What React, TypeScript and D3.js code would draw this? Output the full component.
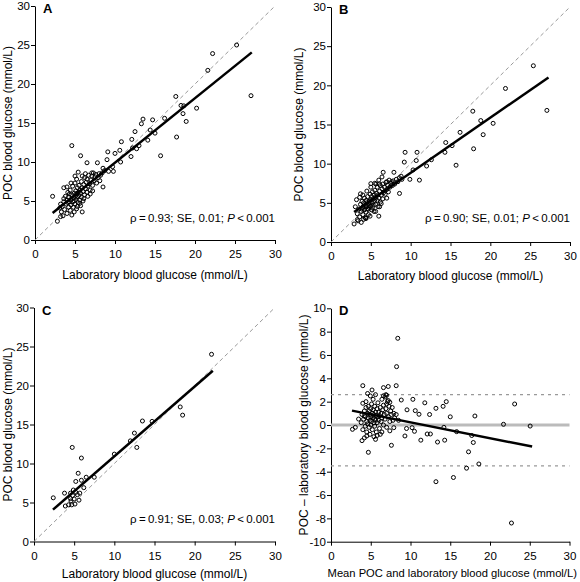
import React, { useEffect, useRef } from 'react';
import * as d3 from 'd3';

const ticks030 = [0, 5, 10, 15, 20, 25, 30];
const ticksDiff = [-10, -8, -6, -4, -2, 0, 2, 4, 6, 8, 10];

const pointsA: [number, number][] = [
  [25.2, 25.0], [22.2, 23.9], [21.6, 21.75], [27.0, 18.5], [17.6, 18.4], [18.25, 17.25], [18.6, 17.2], [18.5, 16.2],
  [18.9, 15.2], [20.2, 16.9], [17.7, 13.2], [15.7, 10.8], [16.2, 15.6], [13.5, 15.5], [13.3, 14.9], [14.7, 15.4],
  [14.4, 14.1], [15.0, 13.7], [14.1, 12.8], [12.5, 13.9], [12.1, 12.9], [10.8, 12.6], [12.7, 11.7], [13.0, 12.1],
  [12.2, 11.8], [10.6, 11.5], [12.0, 10.7], [10.7, 10.0], [9.1, 11.3], [10.0, 11.1], [4.6, 12.1], [5.7, 10.8],
  [6.5, 9.9], [7.8, 9.9], [9.0, 10.3], [9.7, 9.4], [9.8, 8.8], [8.5, 9.2], [8.5, 6.8], [5.9, 3.6], [2.2, 5.6],
  [2.8, 2.4], [3.2, 3.0], [3.1, 4.1], [3.6, 6.7], [5.4, 8.7], [5.0, 8.2], [7.1, 8.6],
  [3.4, 4.3], [3.6, 4.9], [3.7, 3.9], [3.8, 5.6], [3.9, 4.6], [4.0, 5.1], [4.0, 3.4], [4.1, 6.1], [4.2, 4.2],
  [4.2, 5.5], [4.3, 4.9], [4.4, 3.8], [4.4, 6.4], [4.5, 5.2], [4.5, 4.5], [4.6, 5.8], [4.6, 3.2], [4.7, 4.9],
  [4.7, 6.9], [4.8, 5.4], [4.8, 4.2], [4.9, 6.0], [4.9, 5.0], [5.0, 5.6], [5.0, 4.6], [5.0, 7.3], [5.1, 6.3],
  [5.1, 5.2], [5.2, 4.0], [5.2, 5.9], [5.3, 6.7], [5.3, 5.5], [5.4, 4.8], [5.4, 6.1], [5.5, 5.7], [5.5, 7.0],
  [5.6, 5.1], [5.6, 6.4], [5.7, 4.4], [5.7, 6.0], [5.8, 7.5], [5.8, 5.5], [5.9, 6.7], [6.0, 6.2], [6.0, 5.0],
  [6.1, 7.1], [6.2, 5.8], [6.2, 8.0], [6.3, 6.6], [6.4, 7.4], [6.5, 6.1], [6.5, 7.8], [6.6, 6.9], [6.7, 8.3],
  [6.8, 7.2], [6.9, 6.4], [7.0, 7.7], [7.1, 8.2], [7.2, 7.0], [7.3, 8.6], [7.4, 7.6], [7.5, 8.1], [7.6, 8.4],
  [7.7, 7.3], [7.9, 8.0], [8.0, 8.5], [8.2, 8.3], [8.4, 8.6], [8.7, 8.9], [9.2, 8.8], [3.3, 3.6], [3.5, 3.1],
  [3.6, 5.3], [4.1, 4.8], [4.3, 5.9], [4.9, 3.6], [5.3, 4.3], [5.6, 4.7], [6.1, 5.3], [6.6, 5.6], [6.9, 5.9],
  [4.5, 7.3], [5.2, 7.8], [5.9, 8.2], [6.3, 8.5], [4.0, 6.8], [3.2, 4.6], [7.2, 6.3], [8.1, 7.6]
];

const pointsB: [number, number][] = [
  [25.4, 22.5], [27.1, 16.8], [21.9, 19.6], [17.8, 16.7], [18.8, 15.5], [20.35, 15.15], [19.1, 13.7], [17.9, 11.9],
  [16.2, 14.0], [14.4, 12.7], [14.3, 11.45], [15.2, 12.3], [15.7, 9.8], [10.8, 11.45], [10.7, 10.4], [9.3, 11.45],
  [12.0, 9.7], [12.6, 10.5], [10.3, 9.2], [11.1, 7.9], [9.9, 8.0], [9.2, 10.2], [6.55, 8.9], [7.9, 8.9], [8.6, 6.2],
  [6.0, 3.3], [5.0, 7.45], [3.7, 6.15], [3.2, 5.4], [3.05, 4.5], [3.3, 2.85], [2.9, 2.3], [5.65, 7.4], [6.06, 7.4],
  [7.0, 7.7], [7.6, 7.7], [8.9, 8.0], [4.05, 4.55], [4.35, 3.06],
  [3.3, 3.6], [3.5, 4.2], [3.6, 3.2], [3.7, 4.8], [3.8, 3.9], [3.9, 5.2], [4.0, 4.4], [4.0, 3.5], [4.1, 5.0],
  [4.2, 4.1], [4.2, 5.6], [4.3, 4.7], [4.3, 3.1], [4.4, 5.3], [4.4, 3.8], [4.5, 4.5], [4.5, 5.0], [4.6, 4.2],
  [4.6, 5.8], [4.7, 4.8], [4.7, 3.5], [4.8, 5.2], [4.8, 4.4], [4.9, 5.0], [4.9, 6.1], [5.0, 4.6], [5.0, 5.4],
  [5.1, 4.1], [5.1, 5.8], [5.2, 5.0], [5.2, 6.4], [5.3, 4.7], [5.3, 5.5], [5.4, 6.0], [5.4, 3.9], [5.5, 5.2],
  [5.5, 6.6], [5.6, 4.8], [5.6, 5.7], [5.7, 6.2], [5.8, 5.3], [5.8, 7.0], [5.9, 4.5], [5.9, 6.0], [6.0, 5.6],
  [6.1, 6.5], [6.2, 5.1], [6.2, 7.2], [6.3, 6.0], [6.4, 6.8], [6.5, 5.5], [6.5, 7.4], [6.6, 6.3], [6.7, 7.0],
  [6.8, 6.1], [6.9, 7.6], [7.0, 6.7], [7.1, 7.3], [7.2, 6.4], [7.3, 7.9], [7.4, 7.0], [7.5, 7.5], [7.7, 7.2],
  [7.8, 7.8], [8.0, 7.4], [8.2, 8.0], [8.4, 7.7], [8.6, 8.2], [8.8, 8.4], [3.4, 2.7], [3.8, 2.5], [4.1, 2.9],
  [4.4, 3.0], [4.9, 3.3], [5.6, 3.9], [6.1, 4.5], [6.3, 4.9], [3.6, 5.7], [4.0, 6.0], [4.5, 6.5], [5.0, 7.0],
  [5.5, 7.5], [6.0, 7.9], [6.4, 8.3], [7.0, 5.6], [3.9, 4.2], [4.7, 4.2], [5.2, 4.4]
];

const pointsC: [number, number][] = [
  [22.1, 24.0], [18.2, 17.25], [18.5, 16.2], [13.5, 15.45], [14.7, 15.4], [12.5, 13.9], [12.0, 12.9], [12.8, 12.06],
  [10.0, 11.2], [4.76, 12.06], [5.9, 10.7], [5.5, 8.75], [7.5, 8.24], [6.5, 8.24], [5.9, 7.85], [5.2, 7.7],
  [6.2, 6.9], [4.9, 6.6], [3.8, 6.2], [2.4, 5.6], [4.55, 6.2], [5.2, 6.3], [5.4, 6.0], [4.55, 5.5], [5.0, 5.45],
  [5.6, 5.3], [5.1, 4.8], [3.9, 4.55], [4.3, 4.7], [4.7, 4.7], [4.6, 5.2], [5.7, 6.2], [4.8, 5.9]
];

const pointsD: [number, number][] = [
  [8.4, 7.43], [8.25, 5.0], [4.0, 3.37], [6.6, 3.2], [7.2, 3.3], [8.2, 3.37], [5.16, 3.0], [4.6, 2.7], [4.95, 2.49],
  [8.84, 2.14], [10.3, 2.2], [11.8, 1.9], [14.5, 2.0], [14.1, 1.6], [13.2, 1.43], [9.56, 1.3], [10.6, 1.23],
  [11.07, 0.92], [12.4, 0.9], [15.0, 0.7], [18.1, 0.77], [23.1, 1.8], [21.7, 0.06], [25.05, -0.09], [4.0, 1.86],
  [3.47, 0.51], [9.3, -0.94], [9.5, -0.3], [10.2, -0.23], [10.5, -0.54], [11.3, -1.3], [12.1, -0.77],
  [12.5, -0.77], [13.4, -1.46], [14.3, -1.3], [14.2, -0.2], [15.8, -0.57], [17.7, -0.9], [17.9, -1.5],
  [17.3, -2.3], [18.6, -3.34], [17.05, -3.7], [15.4, -4.5], [13.2, -4.86], [22.7, -8.4], [7.6, -1.74],
  [4.7, -2.34], [5.6, -1.23], [3.9, -1.34], [4.2, -1.1], [4.5, -0.94], [2.7, -0.37], [3.06, -0.2], [6.2, -0.8],
  [7.9, -0.23], [6.6, 2.5], [7.0, 2.55], [7.2, 2.1], [7.4, 1.95], [7.0, 1.8],
  [3.8, 0.2], [3.9, 0.9], [4.0, -0.4], [4.1, 0.5], [4.2, 1.2], [4.3, -0.1], [4.3, 0.7], [4.4, 1.5], [4.5, 0.3],
  [4.5, -0.6], [4.6, 1.0], [4.6, 0.1], [4.7, 1.6], [4.7, 0.6], [4.8, -0.2], [4.8, 1.2], [4.9, 0.4], [4.9, 0.9],
  [5.0, 1.4], [5.0, 0.0], [5.0, 0.7], [5.1, 1.8], [5.1, 0.3], [5.2, 1.0], [5.2, -0.4], [5.3, 0.6], [5.3, 1.3],
  [5.4, 0.2], [5.4, 0.9], [5.5, 1.6], [5.5, 0.5], [5.5, -0.1], [5.6, 1.1], [5.6, 0.4], [5.7, 0.8], [5.7, -0.6],
  [5.8, 1.4], [5.8, 0.2], [5.9, 0.7], [5.9, 1.9], [6.0, 0.4], [6.0, 1.1], [6.1, -0.3], [6.1, 0.8], [6.2, 1.5],
  [6.3, 0.3], [6.3, 1.0], [6.4, 2.2], [6.4, 0.6], [6.5, 1.3], [6.6, 0.0], [6.6, 1.7], [6.7, 0.9], [6.8, 2.4],
  [6.8, 0.5], [6.9, 1.4], [7.0, 1.0], [7.0, -0.2], [7.1, 2.0], [7.2, 0.7], [7.3, 1.6], [7.4, 0.3], [7.5, 1.2],
  [7.6, 0.9], [7.7, 1.5], [7.8, 0.4], [7.9, 1.0], [8.0, 0.6], [8.2, 0.9], [8.5, 0.4], [5.4, -1.0], [4.9, -0.8],
  [6.4, -0.6], [5.8, -0.9], [4.4, 2.0], [5.3, 2.2], [5.6, 2.6], [6.9, 2.6], [4.2, 0.8], [7.4, -0.5]
];

// regression fits: [xStart, xEnd, slope, intercept]
const fitA = [2.2, 27.1, 0.827, 1.64];
const fitB = [2.9, 27.3, 0.704, 1.79];
const fitC = [2.36, 22.26, 0.895, 1.97];
const fitD = [2.64, 25.3, -0.136, 1.59];

const statsRho = ['0.93', '0.90', '0.91'];
const statsSE = ['0.01', '0.01', '0.03'];
const statsP = ['0.001', '0.001', '0.001'];

const biasD = 0;
const limitsD = [2.6, -3.5];

const FONT = '"Liberation Sans", Arial, Helvetica, sans-serif';

type Panel = {
  label: string;
  pts: [number, number][];
  fit: number[];
  left: number; right: number; top: number; bottom: number;
  yDomain: [number, number];
  yTicks: number[];
  xTitle: string;
  xTitleY: number;
  xTitleSize: number;
  yTitle: string;
  yTitleX: number;
  stat: number;
  statY: number;
  bland: boolean;
};

const panels: Panel[] = [
  { label: 'A', pts: pointsA, fit: fitA, left: 35, right: 275, top: 6, bottom: 240, yDomain: [0, 30], yTicks: ticks030,
    xTitle: 'Laboratory blood glucose (mmol/L)', xTitleY: 278.5, xTitleSize: 12, yTitle: 'POC blood glucose (mmol/L)', yTitleX: 12, stat: 0, statY: 222, bland: false },
  { label: 'B', pts: pointsB, fit: fitB, left: 331, right: 570, top: 7, bottom: 242, yDomain: [0, 30], yTicks: ticks030,
    xTitle: 'Laboratory blood glucose (mmol/L)', xTitleY: 279.5, xTitleSize: 12, yTitle: 'POC blood glucose (mmol/L)', yTitleX: 303, stat: 1, statY: 221.5, bland: false },
  { label: 'C', pts: pointsC, fit: fitC, left: 34, right: 275, top: 307.5, bottom: 541.5, yDomain: [0, 30], yTicks: ticks030,
    xTitle: 'Laboratory blood glucose (mmol/L)', xTitleY: 578, xTitleSize: 12, yTitle: 'POC blood glucose (mmol/L)', yTitleX: 12, stat: 2, statY: 523, bland: false },
  { label: 'D', pts: pointsD, fit: fitD, left: 331, right: 569.5, top: 308.3, bottom: 541.7, yDomain: [-10, 10], yTicks: ticksDiff,
    xTitle: 'Mean POC and laboratory blood glucose (mmol/L)', xTitleY: 577, xTitleSize: 11.2, yTitle: 'POC \u2013 laboratory blood glucose (mmol/L)', yTitleX: 308, stat: -1, statY: 0, bland: true },
];

export default function App() {
  const ref = useRef<SVGSVGElement>(null);
  useEffect(() => {
    const svg = d3.select(ref.current);
    svg.selectAll('*').remove();
    svg.append('rect').attr('width', 580).attr('height', 582).attr('fill', '#fff');

    panels.forEach((p) => {
      const x = d3.scaleLinear().domain([0, 30]).range([p.left, p.right]);
      const y = d3.scaleLinear().domain(p.yDomain).range([p.bottom, p.top]);
      const g = svg.append('g');

      const ya = g.append('g').attr('transform', `translate(${p.left},0)`)
        .call(d3.axisLeft(y).tickValues(p.yTicks).tickSize(4).tickSizeOuter(0).tickPadding(1).tickFormat((d) => String(d)));
      const xa = g.append('g').attr('transform', `translate(0,${p.bottom})`)
        .call(d3.axisBottom(x).tickValues(ticks030).tickSize(4).tickSizeOuter(0).tickPadding(6).tickFormat((d) => String(d)));
      [ya, xa].forEach((a) => {
        a.select('.domain').attr('stroke', '#000').attr('stroke-width', 1);
        a.selectAll('.tick line').attr('stroke', '#000').attr('stroke-width', 1);
        a.selectAll('.tick text').attr('font-family', FONT).attr('font-size', 11.5).attr('fill', '#000');
      });

      g.append('text').attr('x', (p.left + p.right) / 2 + (p.bland ? 2 : 0)).attr('y', p.xTitleY)
        .attr('text-anchor', 'middle').attr('font-family', FONT).attr('font-size', p.xTitleSize).text(p.xTitle);
      g.append('text').attr('transform', `translate(${p.yTitleX},${(p.top + p.bottom) / 2}) rotate(-90)`)
        .attr('text-anchor', 'middle').attr('font-family', FONT).attr('font-size', 12).text(p.yTitle);

      if (!p.bland) {
        g.append('line').attr('x1', x(0)).attr('y1', y(0)).attr('x2', x(30)).attr('y2', y(30))
          .attr('stroke', '#9a9a9a').attr('stroke-width', 1).attr('stroke-dasharray', '4,3');
      } else {
        g.append('line').attr('x1', x(0)).attr('x2', x(30)).attr('y1', y(biasD)).attr('y2', y(biasD))
          .attr('stroke', '#bbb').attr('stroke-width', 3);
        limitsD.forEach((l) => {
          g.append('line').attr('x1', x(0)).attr('x2', x(30)).attr('y1', y(l)).attr('y2', y(l))
            .attr('stroke', '#999').attr('stroke-width', 1.2).attr('stroke-dasharray', '3,4');
        });
      }

      g.append('g').selectAll('circle').data(p.pts).join('circle')
        .attr('cx', (d) => x(d[0])).attr('cy', (d) => y(d[1])).attr('r', 2)
        .attr('fill', 'none').attr('stroke', '#000').attr('stroke-width', 1);

      const [x0, x1, m, b] = p.fit;
      const line = d3.line<number>().x((v) => x(v)).y((v) => y(m * v + b));
      g.append('path').attr('d', line([x0, x1])).attr('stroke', '#000').attr('stroke-width', 2.5).attr('fill', 'none');

      if (p.stat >= 0) {
        const t = g.append('text').attr('x', p.right).attr('y', p.statY).attr('text-anchor', 'end')
          .attr('font-family', FONT).attr('font-size', 11.5);
        t.append('tspan').text(`\u03C1\u2009=\u2009${statsRho[p.stat]}; SE, ${statsSE[p.stat]}; `);
        t.append('tspan').attr('font-style', 'italic').text('P');
        t.append('tspan').text(`\u2009<\u2009${statsP[p.stat]}`);
      }

      g.append('text').attr('x', p.left + 8).attr('y', p.top + 7).attr('font-family', FONT)
        .attr('font-weight', 'bold').attr('font-size', 13).text(p.label);
    });
  }, []);
  return <svg ref={ref} width={580} height={582} style={{ position: 'absolute', left: 0, top: 0, display: 'block' }} />;
}
